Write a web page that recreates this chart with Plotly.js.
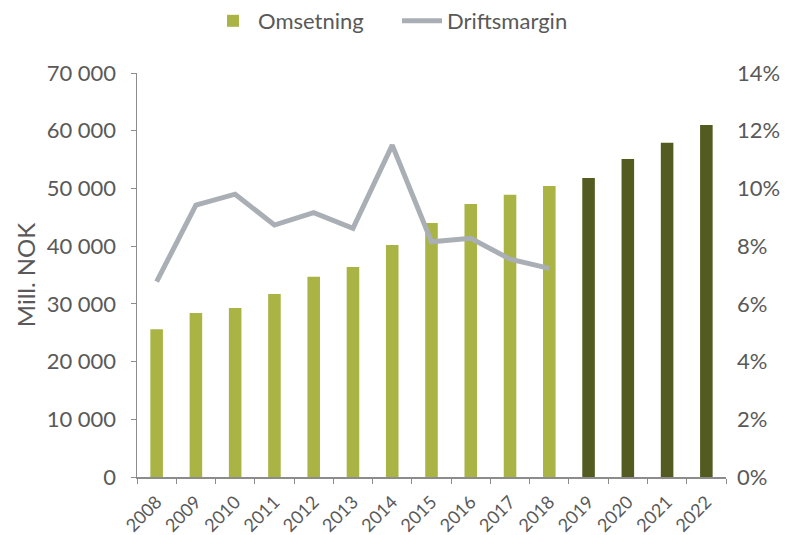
<!DOCTYPE html>
<html>
<head>
<meta charset="utf-8">
<script src="https://cdn.plot.ly/plotly-3.0.1.min.js"></script>
<style>html,body{margin:0;padding:0;background:#fff;}#chart{width:794px;height:535px;}</style>
</head>
<body>
<div id="chart"></div>
<script>
const years = ["2008","2009","2010","2011","2012","2013","2014","2015","2016","2017","2018","2019","2020","2021","2022"];
const omsetning = [25600, 28400, 29300, 31700, 34700, 36400, 40200, 44000, 47300, 48900, 50400, 51800, 55100, 57900, 61000];
const marginYears = ["2008","2009","2010","2011","2012","2013","2014","2015","2016","2017","2018"];
const driftsmargin = [6.77, 9.42, 9.80, 8.73, 9.16, 8.62, 11.50, 8.15, 8.27, 7.55, 7.23];
const forecastFrom = 2019;

const lightGreen = "#A9B444";
const darkGreen = "#535B21";
const barColors = years.map(y => (+y >= forecastFrom ? darkGreen : lightGreen));
const txt = "#595959";
const fontFam = "Lato, 'Open Sans', sans-serif";

const traces = [
  {
    type: "bar", name: "Omsetning", x: years, y: omsetning,
    marker: {color: barColors}, yaxis: "y"
  },
  {
    type: "scatter", mode: "lines", name: "Driftsmargin", x: marginYears, y: driftsmargin,
    line: {color: "#A9AFB4", width: 5}, yaxis: "y2"
  }
];

const layout = {
  width: 794, height: 535,
  margin: {l: 137, r: 68, t: 73, b: 58},
  paper_bgcolor: "#fff", plot_bgcolor: "#fff",
  separators: ", ",
  font: {family: fontFam, color: txt, size: 20},
  bargap: 0.68,
  showlegend: true,
  legend: {
    orientation: "h", xref: "container", yref: "container",
    x: 0.5, xanchor: "center", y: 1.0, yanchor: "top",
    font: {size: 22, color: txt}, traceorder: "normal", itemwidth: 40,
    entrywidth: 134, entrywidthmode: "pixels"
  },
  xaxis: {
    type: "category", tickangle: -45,
    tickfont: {size: 18, color: txt}, ticklabelstandoff: 6,
    showline: true, linecolor: "#8c8c8c", linewidth: 1.5,
    ticks: "outside", ticklen: 5, tickcolor: "#8c8c8c", tickson: "boundaries",
    showgrid: false, zeroline: false, fixedrange: true
  },
  yaxis: {
    range: [0, 70000], dtick: 10000, tickformat: ",.0f",
    tickfont: {size: 22, color: txt}, ticklabelstandoff: 10,
    title: {text: "Mill. NOK", font: {size: 24, color: txt}, standoff: 4},
    showline: true, linecolor: "#8c8c8c", linewidth: 1.5,
    ticks: "outside", ticklen: 5, tickcolor: "#8c8c8c",
    showgrid: false, zeroline: false
  },
  yaxis2: {
    overlaying: "y", side: "right", range: [0, 14], dtick: 2, ticksuffix: "%",
    tickfont: {size: 22, color: txt}, ticklabelstandoff: 10,
    showline: false, ticks: "", showgrid: false, zeroline: false
  }
};

Plotly.newPlot("chart", traces, layout, {displayModeBar: false, staticPlot: true});
</script>
</body>
</html>
